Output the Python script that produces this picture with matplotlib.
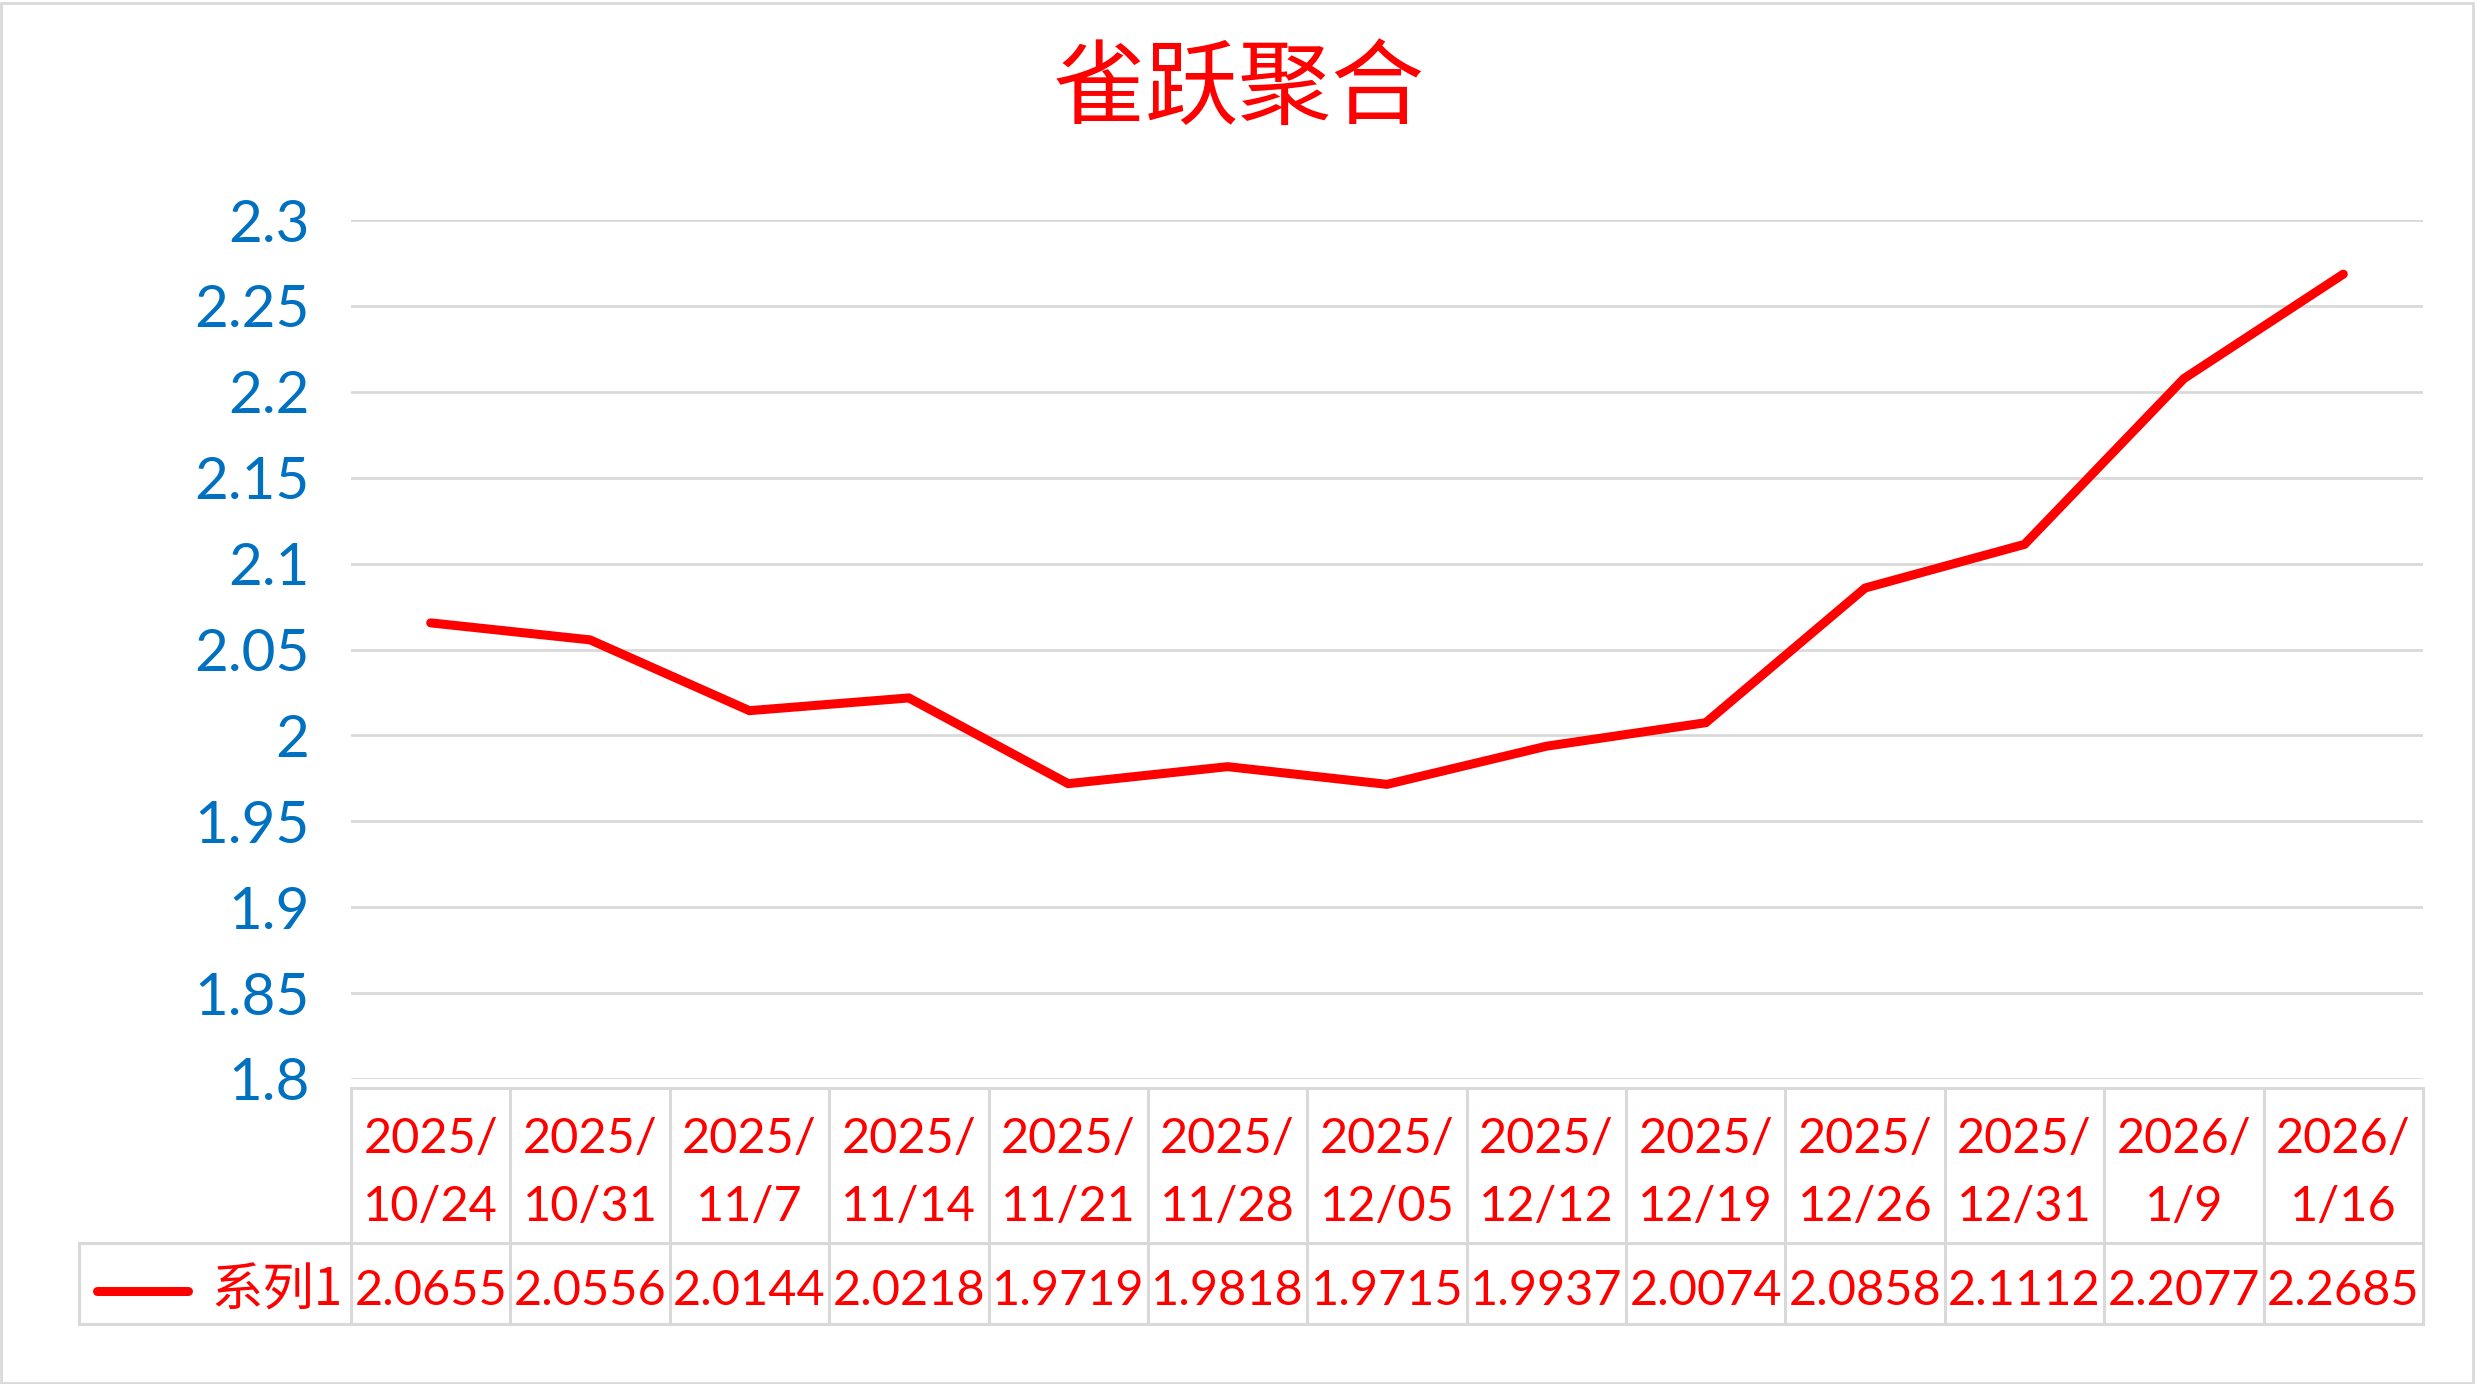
"""
Line chart with a data table below it, Excel style.
"""

import matplotlib
matplotlib.use("Agg")
import matplotlib.pyplot as plt
import matplotlib.transforms as mtransforms
from matplotlib.patches import Rectangle

# data
dates = ["2025/\n10/24", "2025/\n10/31", "2025/\n11/7", "2025/\n11/14", "2025/\n11/21",
         "2025/\n11/28", "2025/\n12/05", "2025/\n12/12", "2025/\n12/19", "2025/\n12/26",
         "2025/\n12/31", "2026/\n1/9", "2026/\n1/16"]
values = [2.0655, 2.0556, 2.0144, 2.0218, 1.9719, 1.9818, 1.9715,
          1.9937, 2.0074, 2.0858, 2.1112, 2.2077, 2.2685]
value_labels = ["2.0655", "2.0556", "2.0144", "2.0218", "1.9719", "1.9818", "1.9715",
                "1.9937", "2.0074", "2.0858", "2.1112", "2.2077", "2.2685"]
y_ticks = [1.8, 1.85, 1.9, 1.95, 2.0, 2.05, 2.1, 2.15, 2.2, 2.25, 2.3]
series_name = "系列1"
title = "雀跃聚合"

RED = "#FF0000"
BLUE = "#0070C0"
GRID = "#D9D9D9"
LATIN = ["Lato", "DejaVu Sans"]
CJK = ["Noto Sans CJK SC", "DejaVu Sans"]

W, H = 2477, 1384
fig = plt.figure(figsize=(W / 100, H / 100), dpi=100)
fig.patch.set_facecolor("white")

# plot area in pixel terms
left_px, right_px, top_px, bottom_px = 351, 2423, 220, 1079
ax = fig.add_axes([left_px / W, 1 - bottom_px / H,
                   (right_px - left_px) / W, (bottom_px - top_px) / H])

x = list(range(len(values)))
ax.plot(x, values, color=RED, linewidth=6.5, solid_joinstyle="miter",
        solid_capstyle="round", clip_on=False, zorder=3)

ax.set_xlim(-0.5, len(values) - 0.5)
ax.set_ylim(y_ticks[0], y_ticks[-1])
ax.set_yticks(y_ticks)
ax.set_yticklabels([f"{t:g}" for t in y_ticks], color=BLUE, fontsize=42, family=LATIN)
ax.tick_params(axis="y", length=0, pad=30)
ax.set_xticks([])
ax.grid(axis="y", color=GRID, linewidth=2)
ax.set_axisbelow(True)
for s in ax.spines.values():
    s.set_visible(False)

# data table below the axes
ax_h = bottom_px - top_px
def ay(px):
    return (bottom_px - px) / ax_h

t_top, t_mid, t_bot = ay(1088), ay(1243), ay(1324)
trans = mtransforms.blended_transform_factory(ax.transData, ax.transAxes)
ftrans = mtransforms.blended_transform_factory(fig.transFigure, ax.transAxes)
line_kw = dict(color=GRID, linewidth=2.2, clip_on=False, solid_capstyle="projecting")

n = len(values)
for k in range(n + 1):
    ax.plot([k - 0.5, k - 0.5], [t_top, t_bot], transform=trans, **line_kw)
ax.plot([-0.5, n - 0.5], [t_top, t_top], transform=trans, **line_kw)
leg_left = 79 / W
ax.plot([leg_left, right_px / W], [t_mid, t_mid], transform=ftrans, **line_kw)
ax.plot([leg_left, right_px / W], [t_bot, t_bot], transform=ftrans, **line_kw)
ax.plot([leg_left, leg_left], [t_mid, t_bot], transform=ftrans, **line_kw)

row_y = ay(1291)
for i in x:
    ax.text(i, ay(1173), dates[i], transform=trans, ha="center", va="center",
            color=RED, fontsize=35, family=LATIN, linespacing=1.65)
    ax.text(i, row_y, value_labels[i], transform=trans, ha="center",
            va="center", color=RED, fontsize=35, family=LATIN)

# legend key in the table
ax.plot([97 / W, 188 / W], [row_y, row_y], transform=ftrans, color=RED,
        linewidth=6.5, solid_capstyle="round", clip_on=False)
ax.text(343 / W, row_y, series_name, transform=ftrans, ha="right", va="center",
        color=RED, fontsize=37, family=CJK)

fig.text(0.5, 1 - 90 / H, title, ha="center", va="center", color=RED,
         fontsize=67, family=CJK, fontweight="medium")

fig.patches.append(Rectangle((0.0005, 0.001), 0.998, 0.997, transform=fig.transFigure,
                             fill=False, edgecolor=GRID, linewidth=2))

fig.savefig("out.png", dpi=100)
